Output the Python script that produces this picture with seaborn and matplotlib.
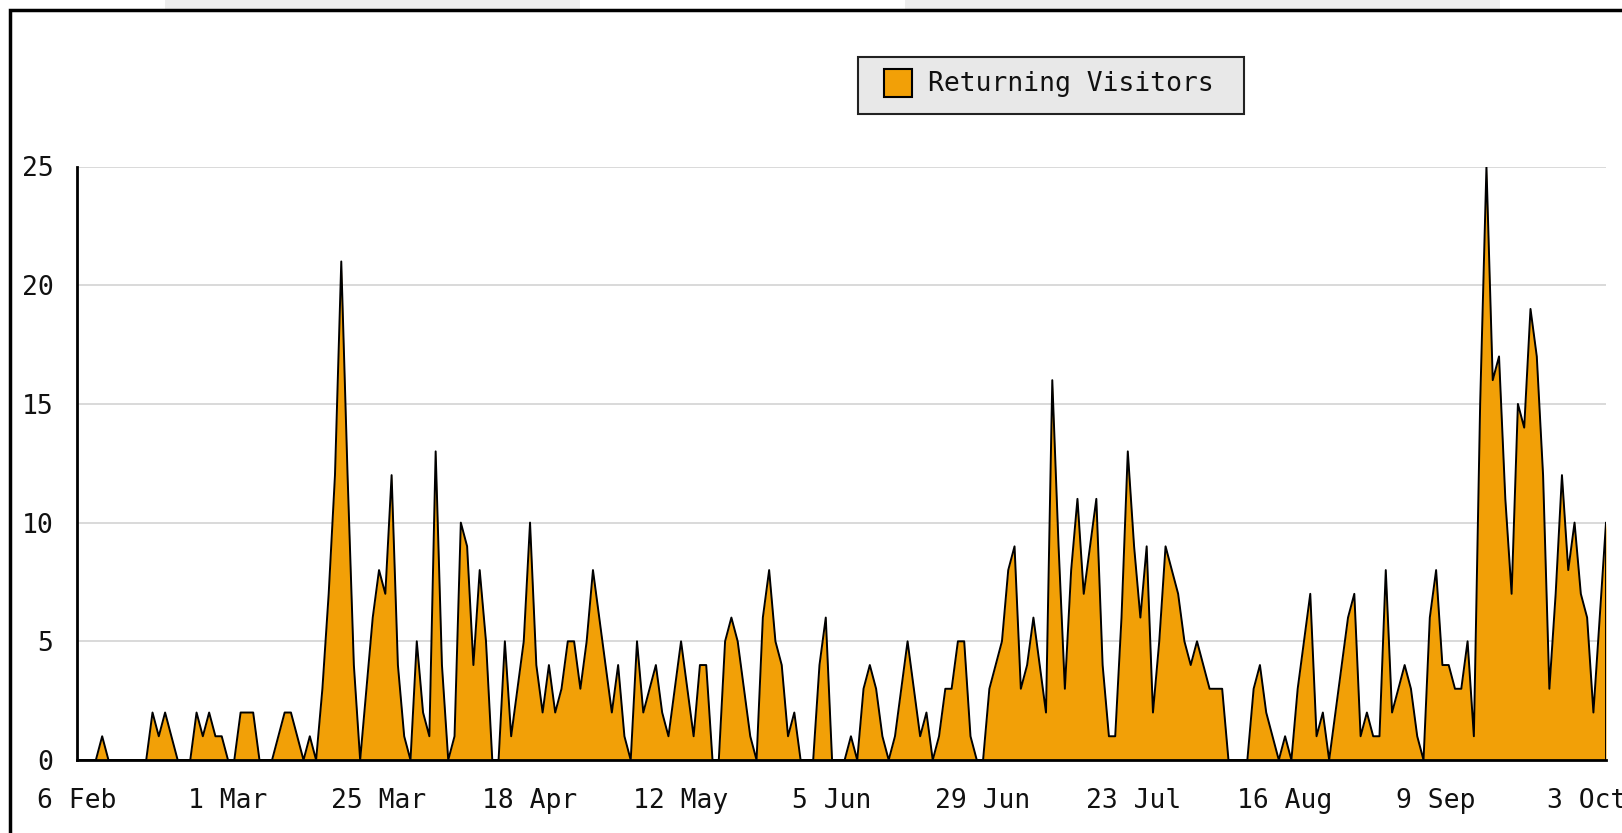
import pandas as pd
import matplotlib
matplotlib.use("Agg")
import matplotlib.pyplot as plt
import seaborn as sns
from matplotlib.patches import Rectangle
from matplotlib.ticker import MultipleLocator

# daily returning visitors, one value per day from 6 Feb
start_date = '2008-02-06'
returning_visitors = [
    0, 0, 0, 0, 1, 0, 0, 0, 0, 0,
    0, 0, 2, 1, 2, 1, 0, 0, 0, 2,
    1, 2, 1, 1, 0, 0, 2, 2, 2, 0,
    0, 0, 1, 2, 2, 1, 0, 1, 0, 3,
    7, 12, 21, 12, 4, 0, 3, 6, 8, 7,
    12, 4, 1, 0, 5, 2, 1, 13, 4, 0,
    1, 10, 9, 4, 8, 5, 0, 0, 5, 1,
    3, 5, 10, 4, 2, 4, 2, 3, 5, 5,
    3, 5, 8, 6, 4, 2, 4, 1, 0, 5,
    2, 3, 4, 2, 1, 3, 5, 3, 1, 4,
    4, 0, 0, 5, 6, 5, 3, 1, 0, 6,
    8, 5, 4, 1, 2, 0, 0, 0, 4, 6,
    0, 0, 0, 1, 0, 3, 4, 3, 1, 0,
    1, 3, 5, 3, 1, 2, 0, 1, 3, 3,
    5, 5, 1, 0, 0, 3, 4, 5, 8, 9,
    3, 4, 6, 4, 2, 16, 9, 3, 8, 11,
    7, 9, 11, 4, 1, 1, 6, 13, 9, 6,
    9, 2, 5, 9, 8, 7, 5, 4, 5, 4,
    3, 3, 3, 0, 0, 0, 0, 3, 4, 2,
    1, 0, 1, 0, 3, 5, 7, 1, 2, 0,
    2, 4, 6, 7, 1, 2, 1, 1, 8, 2,
    3, 4, 3, 1, 0, 6, 8, 4, 4, 3,
    3, 5, 1, 15, 25, 16, 17, 11, 7, 15,
    14, 19, 17, 12, 3, 7, 12, 8, 10, 7,
    6, 2, 6, 10,
]
tick_labels = ['6 Feb', '1 Mar', '25 Mar', '18 Apr', '12 May', '5 Jun',
               '29 Jun', '23 Jul', '16 Aug', '9 Sep', '3 Oct']
y_ticks = [0, 5, 10, 15, 20, 25]
series_name = 'Returning Visitors'

df = pd.DataFrame({
    'Date': pd.date_range(start_date, periods=len(returning_visitors), freq='D'),
    'Visitors': returning_visitors,
})
tick_dates = pd.date_range(start_date, periods=len(tick_labels), freq='24D')

fill_color = '#f2a007'
text_color = '#111111'
font_size = 19

sns.set_theme(style='white')
plt.rcParams['font.family'] = ['DejaVu Sans Mono', 'DejaVu Sans']

W, H = 1622, 833
fig = plt.figure(figsize=(W / 100, H / 100), dpi=100)
fig.patch.set_facecolor('white')

# plot area in pixels: x 77..1606, y 166..760
ax = fig.add_axes([77 / W, 1 - 760 / H, (1606 - 77) / W, (760 - 166.5) / H])

ax.fill_between(df['Date'], df['Visitors'], color=fill_color, linewidth=0, zorder=2)
sns.lineplot(data=df, x='Date', y='Visitors', ax=ax, color='black',
             linewidth=1.4, zorder=3)
# closing edge of the area at the last day
last = df.iloc[-1]
ax.plot([last['Date'], last['Date']], [0, last['Visitors']], color='black',
        linewidth=1.4, zorder=3)

ax.set_xlim(df['Date'].iloc[0], df['Date'].iloc[-1])
ax.set_ylim(0, 25)
ax.set_xlabel('')
ax.set_ylabel('')

ax.set_yticks(y_ticks)
ax.set_yticklabels([str(v) for v in y_ticks])
ax.yaxis.set_minor_locator(MultipleLocator(1))
ax.set_xticks(tick_dates)
ax.set_xticklabels(tick_labels)

ax.yaxis.grid(True, color='#d9d9d9', linewidth=1.4)
ax.xaxis.grid(False)
ax.set_axisbelow(True)

for side in ['top', 'right']:
    ax.spines[side].set_visible(False)
for side in ['left', 'bottom']:
    ax.spines[side].set_color('black')
    ax.spines[side].set_linewidth(2.0)
    ax.spines[side].set_zorder(4)

ax.tick_params(axis='y', which='major', direction='in', length=10, width=1.6,
               color='black', pad=17, labelsize=font_size, labelcolor=text_color)
ax.tick_params(axis='y', which='minor', direction='in', length=6.5, width=1.4,
               color='black')
ax.tick_params(axis='x', which='major', direction='in', length=6, width=1.6,
               color='black', pad=20, labelsize=font_size, labelcolor=text_color)

def px_box(x0, y0, x1, y1, **kw):
    # rectangle given in image pixels (origin top-left)
    return Rectangle((x0 / W, 1 - y1 / H), (x1 - x0) / W, (y1 - y0) / H,
                     transform=fig.transFigure, **kw)

# faint page elements above the chart frame
for x0, x1 in [(165, 580), (905, 1500)]:
    fig.patches.append(px_box(x0, 0, x1, 9, facecolor='#ededed', linewidth=0))

# legend box drawn by hand to match the reference padding
fig.patches.append(px_box(858, 57, 1244, 114, facecolor='#e8e8e8',
                          edgecolor='#222222', linewidth=1.5))
fig.patches.append(px_box(884, 69, 912, 97, facecolor=fill_color,
                          edgecolor='black', linewidth=1.5))
fig.text(928 / W, 1 - 84 / H, series_name, fontsize=font_size, color=text_color,
         ha='left', va='center')

# outer frame of the chart image
fig.patches.append(px_box(10, 10, W + 20, H + 20, fill=False,
                          edgecolor='black', linewidth=2.5))

fig.savefig('out.png', dpi=100)
